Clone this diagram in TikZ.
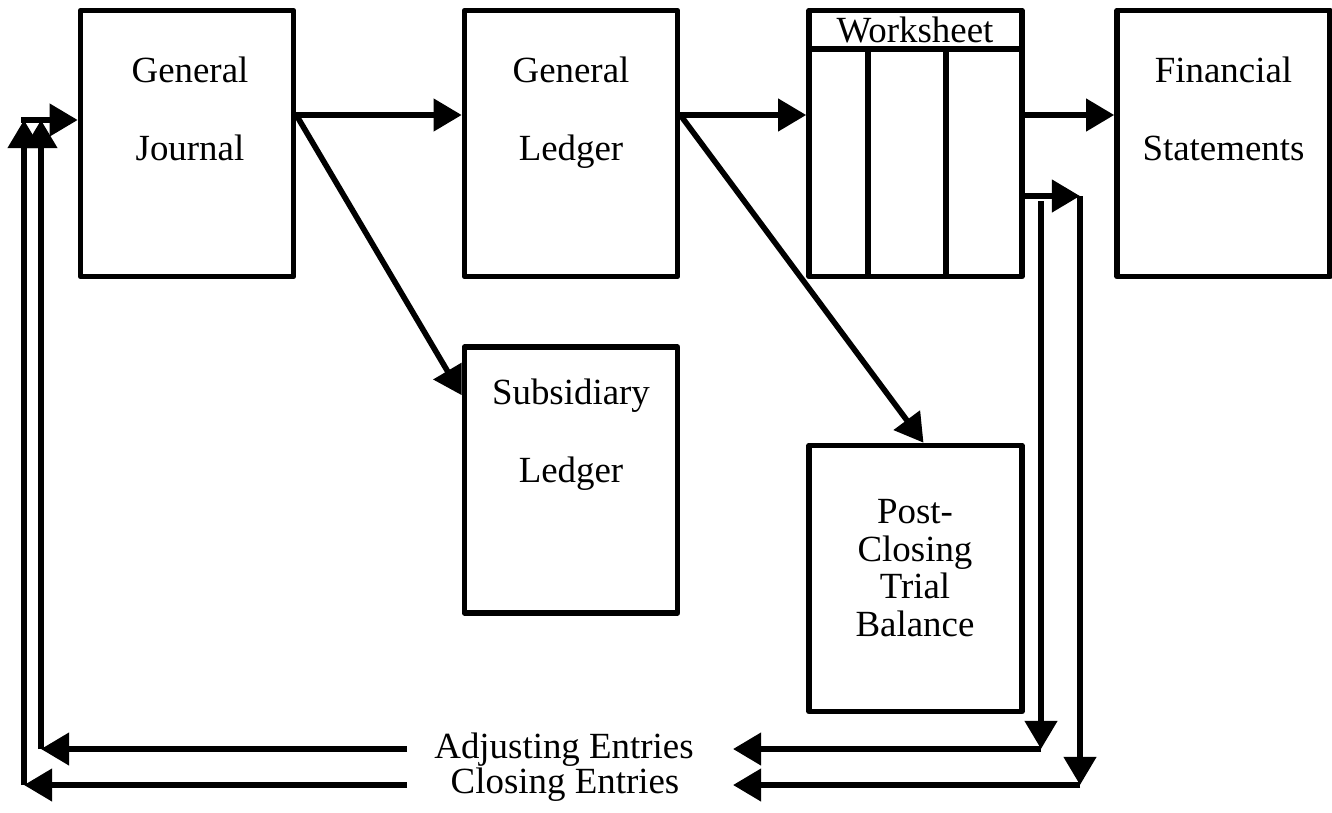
\documentclass[tikz,border=0pt]{standalone}
\usepackage{fontspec}
\setmainfont{Liberation Serif}
\usepackage{tikz}
\usetikzlibrary{arrows.meta,calc}
\tikzset{>={Triangle[length=16pt,width=18pt]}}
\tikzset{
  book/.style={draw, line width=3.2pt, line join=round, minimum width=4.26cm,
    minimum height=5.32cm, inner sep=0pt},
  lbl/.style={align=center, font=\fontsize{21}{21.5}\selectfont},
  flow/.style={line width=3.2pt, ->},
  rule/.style={line width=3.2pt},
}

\begin{document}
\begin{tikzpicture}[x=0.02cm, y=-0.02cm]
  \useasboundingbox (0,0) rectangle (1332,812);
  % the books
  \node[book] (gj) at (187,143.5) {};
  \node[book] (gl) at (571,143.5) {};
  \node[book] (ws) at (915.5,143.5) {};
  \node[book] (fs) at (1223.5,143.5) {};
  \node[book] (sub) at (571,480) {};
  \node[book] (pctb) at (915.5,578.5) {};
  \node[lbl] (gjtext) at (190,109) {General\\[23pt]Journal};
  \node[lbl] (gltext) at (571,113) {General\\[23pt]Ledger};
  \node[lbl] (wstext) at (915,30) {Worksheet};
  \node[lbl] (fstext) at (1223.5,109) {Financial\\[23pt]Statements};
  \node[lbl] (subtext) at (571,435) {Subsidiary\\[23pt]Ledger};
  \node[lbl] (pctbtext) at (915,568) {Post-\\Closing\\Trial\\Balance};
  % worksheet columns
  \coordinate (hdr) at (0,49);
  \draw[rule] (ws.west |- hdr) -- (ws.east |- hdr);
  \foreach \cx in {868,946}
    \draw[rule] (\cx,49) -- (ws.south -| \cx,0);
  % posting
  \coordinate (top) at (0,115);
  \draw[flow] (gj.east |- top) -- (gl.west |- top);
  \draw[flow] (gj.east |- top) -- ($(sub.north west)+(0,51)$);
  \draw[flow] (gl.east |- top) -- (ws.west |- top);
  \draw[flow] (gl.east |- top) -- ($(pctb.north)+(8,0)$);
  \draw[flow] (ws.east |- top) -- (fs.west |- top);
  % entries back to the journal
  \node[lbl] (adj) at (564,750) {Adjusting Entries};
  \node[lbl] (clo) at (565,785) {Closing Entries};
  \coordinate (clA) at (1080,196);
  \coordinate (clB) at (1080,785);
  \coordinate (clR) at (733,785);
  \coordinate (clS) at (407,785);
  \coordinate (clL) at (24,785);
  \coordinate (clU) at (24,120);
  \coordinate (adA) at (1041,201);
  \coordinate (adB) at (1041,749);
  \coordinate (adR) at (733,749);
  \coordinate (adS) at (407,749);
  \coordinate (adL) at (41,749);
  \coordinate (adU) at (41,120);
  \draw[flow] (ws.east |- clA) -- (clA);
  \draw[flow] (clA) -- (clB);
  \draw[flow] (adA) -- (adB);
  \draw[flow] (adB) -- (adR);
  \draw[flow] (adS) -- (adL);
  \draw[flow] (adL) -- (adU);
  \draw[flow] (clB) -- (clR);
  \draw[flow] (clS) -- (clL);
  \draw[flow] (clL) -- (clU);
  \draw[flow] ([xshift=-1.6pt]clU) -- (gj.west |- clU);
\end{tikzpicture}
\end{document}
